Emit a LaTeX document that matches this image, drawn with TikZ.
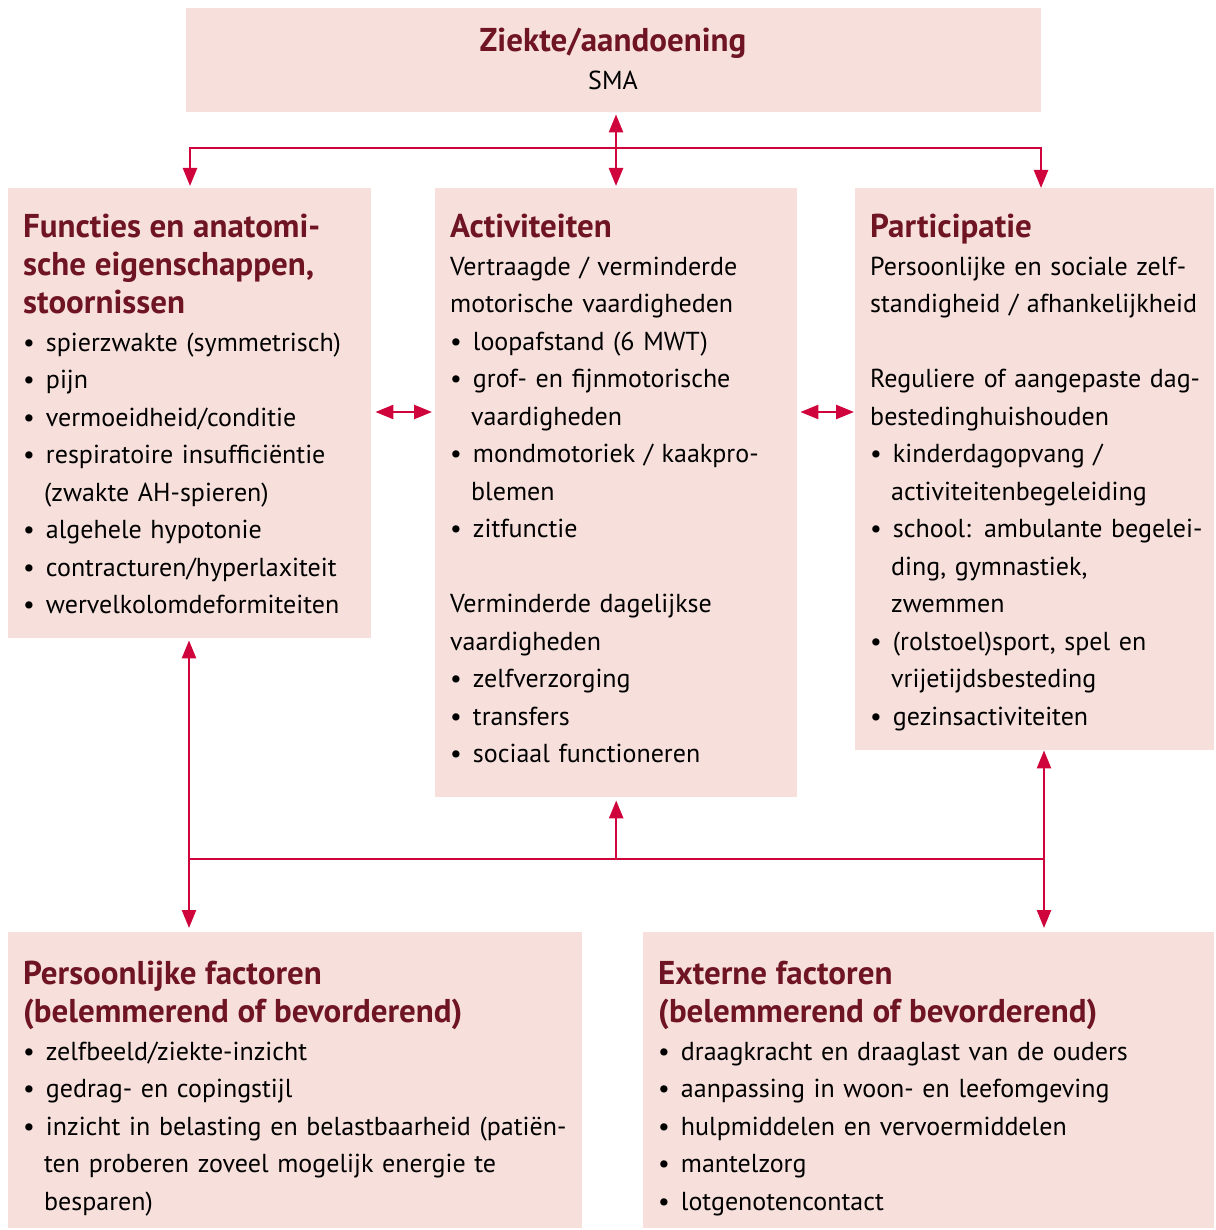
\documentclass[tikz,border=0pt]{standalone}
\usepackage{fontspec}
\setmainfont{PT Sans}
\usepackage{enumitem}
\usetikzlibrary{arrows.meta,positioning}
\definecolor{boxfill}{HTML}{F7E0DB}
\definecolor{titlered}{HTML}{6E1423}
\definecolor{arrowred}{HTML}{D0043C}
\newcommand{\bodyfont}{\fontsize{26}{37.5}\selectfont}
\newcommand{\head}[1]{{\fontsize{33}{38}\selectfont\bfseries\color{titlered}\strut #1\par}}
\setlist[itemize]{label=\textbullet,leftmargin=21pt,labelwidth=10pt,labelsep=11pt,align=left,nosep}
\tikzset{
  panel/.style={fill=boxfill,anchor=north west,inner sep=0pt},
  panetext/.style={anchor=north west,inner sep=0pt,align=left,font=\bodyfont},
  link/.style={draw=arrowred,line width=2.5pt}
}

\begin{document}
\begin{tikzpicture}[x=1pt,y=-1pt,>={Triangle[length=18pt,width=14pt]}]
	\useasboundingbox (0,0) rectangle (1215,1230);
	\node[panel,minimum width=855pt,minimum height=104pt] (disease) at (186,8) {};
	\node[panel,minimum width=363pt,minimum height=450pt] (functions) at (8,188) {};
	\node[panel,minimum width=362pt,minimum height=609pt] (activities) at (435,188) {};
	\node[panel,minimum width=359pt,minimum height=562pt] (participation) at (855,188) {};
	\node[panel,minimum width=574pt,minimum height=296pt] (personal) at (8,932) {};
	\node[panel,minimum width=571pt,minimum height=296pt] (external) at (643,932) {};

	\node[panetext,anchor=north,align=center,text width=600pt] (diseasetext) at (613,25)
		{\head{Ziekte/aandoening}SMA};
	\node[panetext,text width=380pt] (functionstext) at (23,211) {%
		\head{Functies en anatomi-\\sche eigenschappen,\\stoornissen}
		\begin{itemize}
			\item spierzwakte (symmetrisch)
			\item pijn
			\item vermoeidheid/conditie
			\item respiratoire insuffici\"entie\\(zwakte AH-spieren)
			\item algehele hypotonie
			\item contracturen/hyperlaxiteit
			\item wervelkolomdeformiteiten
		\end{itemize}};
	\node[panetext,text width=380pt] (activitiestext) at (450,211) {%
		\head{Activiteiten}
		Vertraagde / verminderde\\motorische vaardigheden
		\begin{itemize}
			\item loopafstand (6 MWT)
			\item grof- en fijnmotorische\\vaardigheden
			\item mondmotoriek / kaakpro-\\blemen
			\item zitfunctie
		\end{itemize}
		\vspace{37.5pt}
		Verminderde dagelijkse\\vaardigheden
		\begin{itemize}
			\item zelfverzorging
			\item transfers
			\item sociaal functioneren
		\end{itemize}};
	\node[panetext,text width=380pt] (participationtext) at (870,211) {%
		\head{Participatie}
		Persoonlijke en sociale zelf-\\standigheid / afhankelijkheid\par
		\vspace{37.5pt}
		Reguliere of aangepaste dag-\\bestedinghuishouden
		\begin{itemize}
			\item kinderdagopvang /\\activiteitenbegeleiding
			\item school: ambulante begelei-\\ding, gymnastiek,\\zwemmen
			\item (rolstoel)sport, spel en\\vrijetijdsbesteding
			\item gezinsactiviteiten
		\end{itemize}};
	\node[panetext,text width=600pt] (personaltext) at (23,958) {%
		\head{Persoonlijke factoren\\(belemmerend of bevorderend)}
		\begin{itemize}
			\item zelfbeeld/ziekte-inzicht
			\item gedrag- en copingstijl
			\item inzicht in belasting en belastbaarheid (pati\"en-\\ten proberen zoveel mogelijk energie te\\besparen)
		\end{itemize}};
	\node[panetext,text width=600pt] (externaltext) at (658,958) {%
		\head{Externe factoren\\(belemmerend of bevorderend)}
		\begin{itemize}
			\item draagkracht en draaglast van de ouders
			\item aanpassing in woon- en leefomgeving
			\item hulpmiddelen en vervoermiddelen
			\item mantelzorg
			\item lotgenotencontact
		\end{itemize}};

	\coordinate (topleft) at (190,148);
	\coordinate (topright) at (1041,148);
	\coordinate (midrow) at (0,412);
	\coordinate (botleft) at (189,859);
	\coordinate (botright) at (1044,859);
	\draw[link,<->,shorten <=2pt,shorten >=2pt] (activities.north -| 616,0) -- (disease.south -| 616,0);
	\draw[link,<->,shorten <=2pt] (topleft |- functions.north) -- (topleft) -- (topright) -- (topright |- participation.north);
	\draw[link,<->,shorten <=4pt,shorten >=3pt] (functions.east |- midrow) -- (activities.west |- midrow);
	\draw[link,<->,shorten <=3pt,shorten >=1pt] (activities.east |- midrow) -- (participation.west |- midrow);
	\draw[link,<->,shorten <=2pt,shorten >=4pt] (botleft |- functions.south) -- (botleft |- personal.north);
	\draw[link] (botleft) -- (botright);
	\draw[link,->,shorten >=3pt] (activities.south |- botleft) -- (activities.south);
	\draw[link,<->,shorten >=4pt] (botright |- participation.south) -- (botright |- external.north);
\end{tikzpicture}
\end{document}
